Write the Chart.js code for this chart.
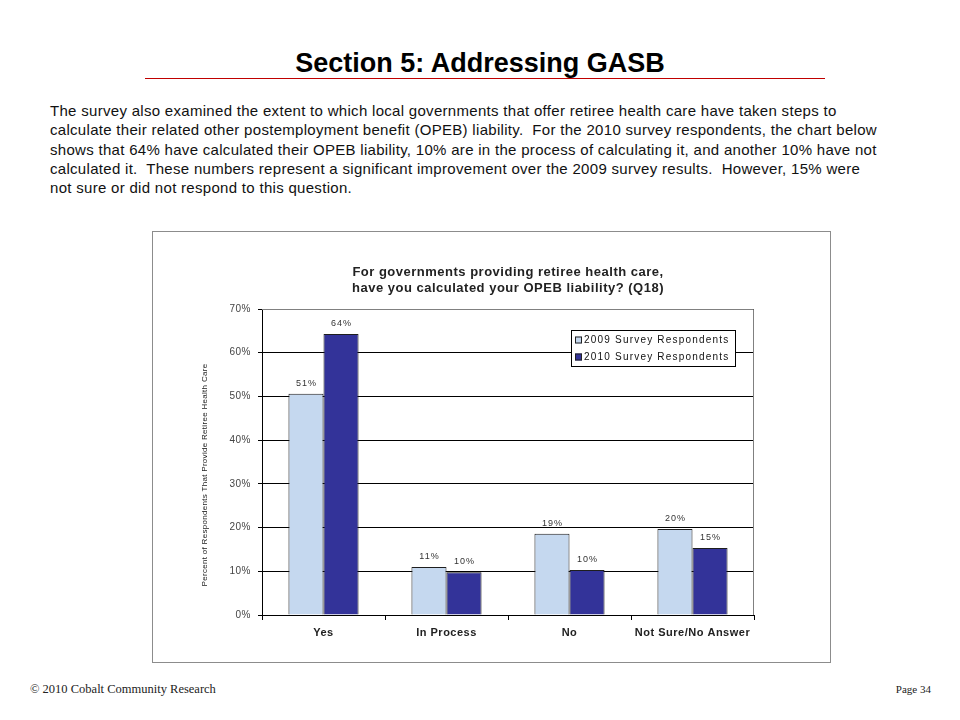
<!DOCTYPE html>
<html>
<head>
<meta charset="utf-8">
<title>Section 5: Addressing GASB</title>
<script src="https://cdn.jsdelivr.net/npm/chart.js@4.4.1/dist/chart.umd.min.js"></script>
<style>
  body { margin: 0; width: 960px; height: 720px; background: #fff; position: relative; overflow: hidden;
         font-family: "Liberation Sans", Arial, sans-serif; color: #111; }
  #page-title { position: absolute; top: 48px; left: 0; width: 960px; line-height: 30px; text-align: center;
                font-weight: bold; font-size: 27px; color: #000; }
  #page-rule { position: absolute; top: 78px; left: 145px; width: 680px; height: 1px; background: #c00000; }
  #intro { position: absolute; left: 50px; top: 101px; font-size: 15px; letter-spacing: 0.3px; line-height: 19.3px;
           white-space: pre; color: #111; }
  #chart-box { position: absolute; left: 152px; top: 231px; width: 677px; height: 430px; border: 1px solid #8c8c8c; }
  #chart-box canvas { display: block; }
  .foot { position: absolute; top: 683px; font-family: "Liberation Serif", serif; color: #222; }
  #foot-left { left: 30px; font-size: 12.5px; top: 682px; }
  #foot-right { right: 29px; font-size: 11px; }
</style>
</head>
<body>
<div id="page-title">Section 5: Addressing GASB</div>
<div id="page-rule"></div>
<div id="intro">The survey also examined the extent to which local governments that offer retiree health care have taken steps to
calculate their related other postemployment benefit (OPEB) liability.  For the 2010 survey respondents, the chart below
shows that 64% have calculated their OPEB liability, 10% are in the process of calculating it, and another 10% have not
calculated it.  These numbers represent a significant improvement over the 2009 survey results.  However, 15% were
not sure or did not respond to this question.</div>

<div id="chart-box"><canvas id="gasb-chart" width="677" height="430"></canvas></div>

<div class="foot" id="foot-left">© 2010 Cobalt Community Research</div>
<div class="foot" id="foot-right">Page 34</div>

<script>
// Q18 — OPEB liability calculated? (percent of respondents)
const categories = ['Yes', 'In Process', 'No', 'Not Sure/No Answer'];
const seriesNames = ['2009 Survey Respondents', '2010 Survey Respondents'];
const values2009 = [50.6, 11.0, 18.6, 19.7];
const values2010 = [64.3, 9.8, 10.3, 15.3];
const yTicks = [0, 10, 20, 30, 40, 50, 60, 70];

const chartTitle = ['For governments providing retiree health care,', 'have you calculated your OPEB liability? (Q18)'];
const yTitle = 'Percent of Respondents That Provide Retiree Health Care';

const FONT = '"Liberation Sans", Arial, sans-serif';

// the original export has loosely spaced text everywhere in the chart
const looseText = {
  id: 'looseText',
  beforeUpdate(chart) { chart.ctx.letterSpacing = '0.5px'; },
  beforeDraw(chart) { chart.ctx.letterSpacing = '0.5px'; }
};

// gray frame round the plot area (top and right)
const plotFrame = {
  id: 'plotFrame',
  beforeDatasetsDraw(chart) {
    const { ctx, chartArea: a } = chart;
    ctx.save();
    ctx.strokeStyle = '#808080';
    ctx.lineWidth = 1;
    ctx.beginPath();
    ctx.moveTo(a.left, a.top + 0.5);
    ctx.lineTo(a.right - 0.5, a.top + 0.5);
    ctx.lineTo(a.right - 0.5, a.bottom);
    ctx.stroke();
    ctx.restore();
  }
};

// rotated y-axis title, a little below the plot's middle as in the original
const yAxisTitle = {
  id: 'yAxisTitle',
  afterDraw(chart) {
    const { ctx, chartArea: a } = chart;
    ctx.save();
    ctx.translate(52, (a.top + a.bottom) / 2 + 13);
    ctx.rotate(-Math.PI / 2);
    ctx.font = '8px ' + FONT;
    ctx.letterSpacing = '0.3px';
    ctx.fillStyle = '#222';
    ctx.textAlign = 'center';
    ctx.textBaseline = 'middle';
    ctx.fillText(yTitle, 0, 0);
    ctx.restore();
  }
};

// value labels above each bar
const barLabels = {
  id: 'barLabels',
  afterDatasetsDraw(chart) {
    const { ctx } = chart;
    ctx.save();
    ctx.font = '9px ' + FONT;
    ctx.letterSpacing = '1px';
    ctx.fillStyle = '#333';
    ctx.textAlign = 'center';
    ctx.textBaseline = 'bottom';
    chart.data.datasets.forEach((ds, i) => {
      chart.getDatasetMeta(i).data.forEach((bar, j) => {
        ctx.fillText(Math.round(ds.data[j]) + '%', bar.x + 0.5, bar.y - 6);
      });
    });
    ctx.restore();
  }
};

// boxed legend sitting inside the plot area, top right
const boxLegend = {
  id: 'boxLegend',
  afterDraw(chart) {
    const { ctx, chartArea: a } = chart;
    const w = 164, h = 36, x = a.right - 19 - w, y = a.top + 21;
    ctx.save();
    ctx.fillStyle = '#fff';
    ctx.fillRect(x, y, w, h);
    ctx.strokeStyle = '#000';
    ctx.lineWidth = 1;
    ctx.strokeRect(x + 0.5, y + 0.5, w, h);
    ctx.font = '10px ' + FONT;
    ctx.letterSpacing = '1.2px';
    ctx.textBaseline = 'middle';
    chart.data.datasets.forEach((ds, i) => {
      const cy = y + 10 + i * 17;
      ctx.fillStyle = ds.backgroundColor;
      ctx.fillRect(x + 4, cy - 3.5, 7, 7);
      ctx.strokeStyle = '#222';
      ctx.strokeRect(x + 4.5, cy - 3, 6, 6);
      ctx.fillStyle = '#111';
      ctx.fillText(ds.label, x + 13, cy + 0.5);
    });
    ctx.restore();
  }
};

new Chart(document.getElementById('gasb-chart'), {
  type: 'bar',
  data: {
    labels: categories,
    datasets: [
      {
        label: seriesNames[0],
        data: values2009,
        backgroundColor: '#c5d8ef',
        borderColor: '#1e1e1e',
        borderWidth: 1,
        categoryPercentage: 0.57,
        barPercentage: 1.0
      },
      {
        label: seriesNames[1],
        data: values2010,
        backgroundColor: '#333399',
        borderColor: '#1e1e1e',
        borderWidth: 1,
        categoryPercentage: 0.57,
        barPercentage: 1.0
      }
    ]
  },
  options: {
    responsive: false,
    animation: false,
    layout: { padding: { left: 0, right: 76, top: 0, bottom: 0 } },
    plugins: {
      legend: { display: false },
      tooltip: { enabled: false },
      title: {
        display: true,
        fullSize: false,
        text: chartTitle,
        color: '#222',
        font: { family: FONT, size: 13, weight: 'bold', lineHeight: 1.2 },
        padding: { top: 33, bottom: 12.8 }
      }
    },
    scales: {
      x: {
        grid: { drawOnChartArea: false, color: '#000', tickLength: 5, offset: true },
        border: { color: '#000' },
        ticks: {
          color: '#222',
          padding: 6,
          font: { family: FONT, size: 11, weight: 'bold' }
        },
        afterFit: scale => { scale.height = 47; }
      },
      y: {
        min: 0,
        max: 70,
        afterBuildTicks: scale => { scale.ticks = yTicks.map(v => ({ value: v })); },
        grid: { color: '#000', tickLength: 4 },
        border: { color: '#000' },
        ticks: {
          color: '#444',
          padding: 7,
          font: { family: FONT, size: 10 },
          callback: v => v + '%'
        },
        afterFit: scale => { scale.width = 109; }
      }
    }
  },
  plugins: [looseText, plotFrame, barLabels, yAxisTitle, boxLegend]
});
</script>
</body>
</html>
